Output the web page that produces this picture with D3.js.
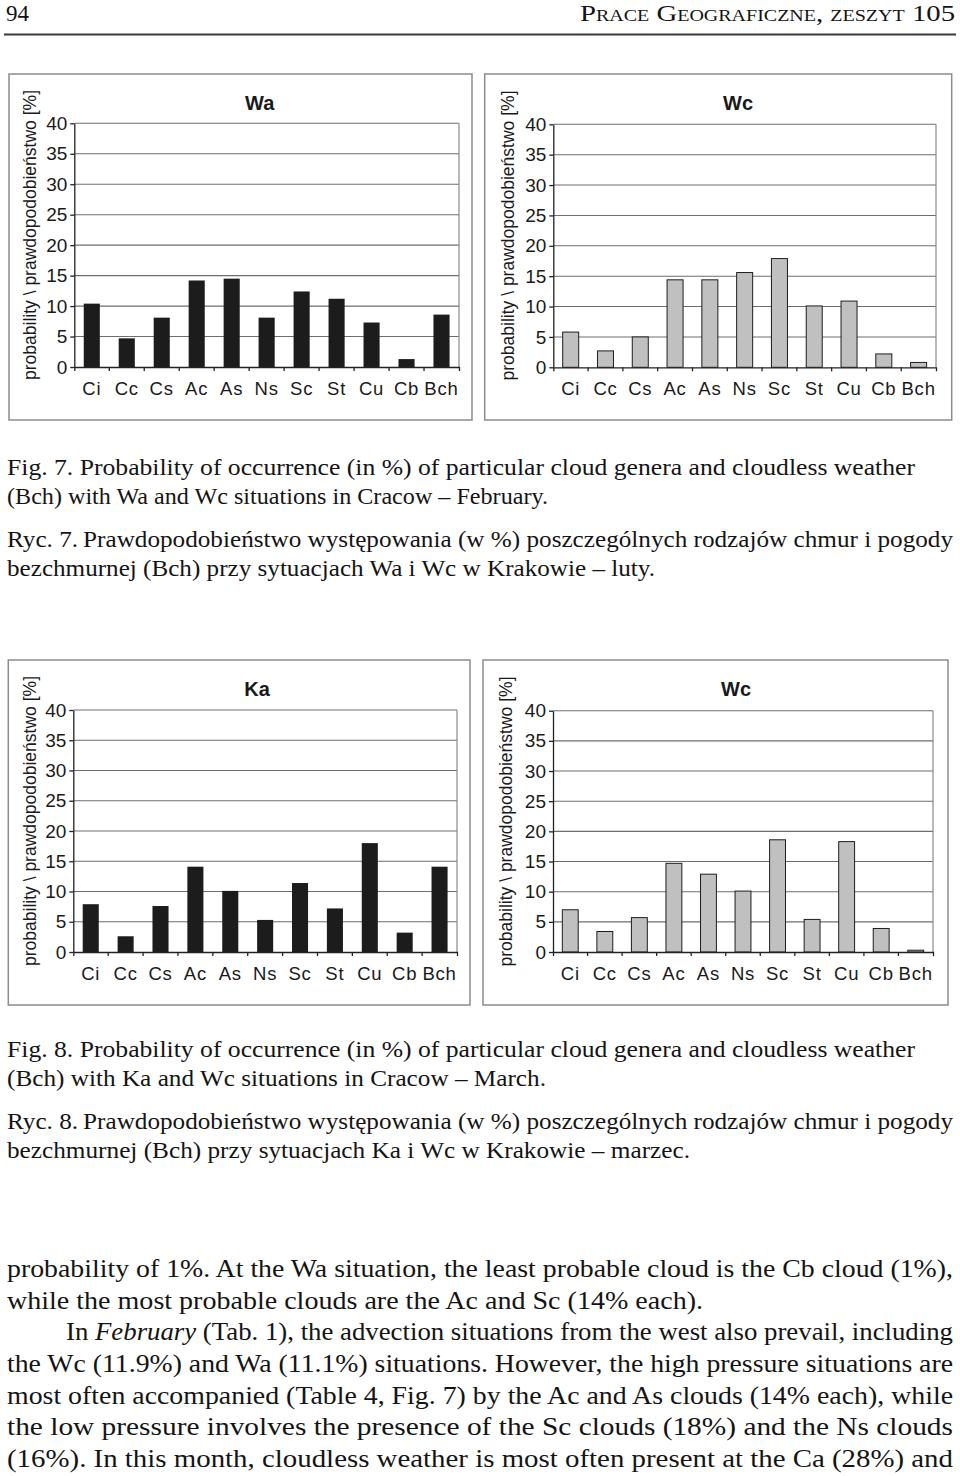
<!DOCTYPE html>
<html>
<head>
<meta charset="utf-8">
<script src="https://cdn.jsdelivr.net/npm/d3@7"></script>
<style>
  body { margin: 0; background: #fff; }
  svg { display: block; }
  .chart text { font-family: "Liberation Sans", Arial, sans-serif; fill: #1a1a1a; }
  .serif { font-family: "Liberation Serif", "Times New Roman", serif; fill: #141414; }
</style>
</head>
<body>
<svg id="page" width="960" height="1476"></svg>
<script>
// cloud genera + cloudless weather (Bch)
var categories = ["Ci", "Cc", "Cs", "Ac", "As", "Ns", "Sc", "St", "Cu", "Cb", "Bch"];
var yTicks = [0, 5, 10, 15, 20, 25, 30, 35, 40];

// February
var waFeb = [10.4, 4.7, 8.1, 14.2, 14.5, 8.1, 12.4, 11.2, 7.3, 1.3, 8.6];
var wcFeb = [5.8, 2.7, 5.0, 14.4, 14.4, 15.6, 17.9, 10.1, 10.9, 2.2, 0.8];
// March
var kaMar = [7.9, 2.6, 7.6, 14.1, 10.1, 5.3, 11.4, 7.2, 18.0, 3.2, 14.1];
var wcMar = [7.0, 3.4, 5.7, 14.7, 12.9, 10.1, 18.6, 5.4, 18.3, 3.9, 0.3];

var yTitle = "probability \\ prawdopodobieństwo [%]";

var svg = d3.select("#page");
svg.append("rect").attr("width", 960).attr("height", 1476).attr("fill", "#fff");

// page header
svg.append("text").attr("class", "serif")
  .attr("x", 6).attr("y", 21)
  .style("font-size", "23px")
  .text("94");
svg.append("text").attr("class", "serif")
  .attr("x", 955).attr("y", 21)
  .attr("text-anchor", "end")
  .style("font-size", "23px")
  .style("font-variant", "small-caps")
  .attr("textLength", 375).attr("lengthAdjust", "spacingAndGlyphs")
  .text("Prace Geograficzne, zeszyt 105");
svg.append("line")
  .attr("x1", 4).attr("x2", 956).attr("y1", 34.5).attr("y2", 34.5)
  .attr("stroke", "#3a3a3a").attr("stroke-width", 2);

function drawChart(cfg)
{
  var g = svg.append("g").attr("class", "chart");

  g.append("rect")
    .attr("x", cfg.box[0]).attr("y", cfg.box[1])
    .attr("width", cfg.box[2] - cfg.box[0]).attr("height", cfg.box[3] - cfg.box[1])
    .attr("fill", "none").attr("stroke", "#8c8c8c").attr("stroke-width", 1.5);

  var x = d3.scaleBand().domain(categories).range([cfg.plot[0], cfg.plot[2]]);
  var xBar = d3.scaleBand().domain(categories).range([cfg.plot[0], cfg.plot[2]])
    .paddingInner(0.54).paddingOuter(0.27);
  var y = d3.scaleLinear().domain([0, 40]).range([cfg.plot[3], cfg.plot[1]]);

  // gridlines
  g.append("g").selectAll("line").data(yTicks.slice(1)).join("line")
    .attr("x1", cfg.plot[0]).attr("x2", cfg.plot[2])
    .attr("y1", function(d) { return y(d); }).attr("y2", function(d) { return y(d); })
    .attr("stroke", "#6e6e6e").attr("stroke-width", 1.1);
  g.append("line")
    .attr("x1", cfg.plot[2]).attr("x2", cfg.plot[2])
    .attr("y1", y(0)).attr("y2", y(40))
    .attr("stroke", "#8a8a8a").attr("stroke-width", 1.2);

  // bars
  g.append("g").selectAll("rect").data(cfg.values).join("rect")
    .attr("x", function(d, i) { return xBar(categories[i]); })
    .attr("width", xBar.bandwidth())
    .attr("y", function(d) { return y(d); })
    .attr("height", function(d) { return y(0) - y(d); })
    .attr("fill", cfg.fill)
    .attr("stroke", cfg.stroke)
    .attr("stroke-width", cfg.stroke == "none" ? 0 : 1);

  // y axis
  var ya = g.append("g")
    .attr("transform", "translate(" + cfg.plot[0] + ",0)")
    .call(d3.axisLeft(y).tickValues(yTicks).tickSize(4).tickSizeOuter(0).tickPadding(3));
  ya.selectAll("text").style("font-size", "19px");
  ya.selectAll("path, line").attr("stroke", "#222").attr("stroke-width", 1.3);

  // x axis: labels in band centres, ticks on band edges
  var xa = g.append("g")
    .attr("transform", "translate(0," + y(0) + ")")
    .call(d3.axisBottom(x).tickSize(0).tickSizeOuter(4).tickPadding(15));
  xa.selectAll("text").style("font-size", "18.5px").style("letter-spacing", "0.8px");
  xa.select(".domain").attr("stroke", "#222").attr("stroke-width", 1.3);
  xa.append("g").selectAll("line").data(categories.slice(1)).join("line")
    .attr("x1", function(d) { return x(d); }).attr("x2", function(d) { return x(d); })
    .attr("y1", 0).attr("y2", 4)
    .attr("stroke", "#222").attr("stroke-width", 1.3);

  // titles
  g.append("text")
    .attr("x", cfg.title[1]).attr("y", cfg.title[2])
    .attr("text-anchor", "middle")
    .style("font-size", "20px").style("font-weight", "bold")
    .text(cfg.title[0]);
  g.append("text")
    .attr("transform", "translate(" + cfg.yTitle[0] + "," + cfg.yTitle[1] + ") rotate(-90)")
    .attr("text-anchor", "middle")
    .style("font-size", "18px")
    .attr("textLength", 290).attr("lengthAdjust", "spacingAndGlyphs")
    .text(yTitle);
}

drawChart({ box: [9, 74, 472, 420], plot: [74.3, 123.3, 459, 367], values: waFeb,
  fill: "#1c1c1c", stroke: "none", title: ["Wa", 259.7, 109.5], yTitle: [36, 235] });
drawChart({ box: [484.7, 74, 951.7, 420], plot: [553.3, 124.3, 936, 367.3], values: wcFeb,
  fill: "#c0c0c0", stroke: "#1e1e1e", title: ["Wc", 738, 109.5], yTitle: [514, 235.5] });
drawChart({ box: [8.3, 660, 470, 1005], plot: [73.3, 710, 457, 952], values: kaMar,
  fill: "#1c1c1c", stroke: "none", title: ["Ka", 257, 695.5], yTitle: [36, 821] });
drawChart({ box: [483, 660, 948, 1005], plot: [553, 710.7, 933, 952], values: wcMar,
  fill: "#c0c0c0", stroke: "#1e1e1e", title: ["Wc", 736, 696], yTitle: [512, 821.5] });

// captions and running text
function textLine(x, y, size, width, parts)
{
  var t = svg.append("text").attr("class", "serif")
    .attr("x", x).attr("y", y)
    .style("font-size", size + "px")
    .attr("textLength", width).attr("lengthAdjust", "spacingAndGlyphs");
  parts.forEach(function(p) {
    if (typeof p == "string") t.append("tspan").text(p);
    else t.append("tspan").style("font-style", "italic").text(p.i);
  });
}

var capLines = [
  [475, 908, "Fig. 7. Probability of occurrence (in %) of particular cloud genera and cloudless weather"],
  [504, 541, "(Bch) with Wa and Wc situations in Cracow \u2013 February."],
  [547, 946, "Ryc. 7.\u2009Prawdopodobieństwo występowania (w %) poszczególnych rodzajów chmur i pogody"],
  [576, 648, "bezchmurnej (Bch) przy sytuacjach Wa i Wc w Krakowie \u2013 luty."],
  [1057, 908, "Fig. 8. Probability of occurrence (in %) of particular cloud genera and cloudless weather"],
  [1086, 539, "(Bch) with Ka and Wc situations in Cracow \u2013 March."],
  [1129, 946, "Ryc. 8.\u2009Prawdopodobieństwo występowania (w %) poszczególnych rodzajów chmur i pogody"],
  [1158, 683, "bezchmurnej (Bch) przy sytuacjach Ka i Wc w Krakowie \u2013 marzec."]
];
capLines.forEach(function(l) { textLine(7, l[0], 23.5, l[1], [l[2]]); });

var bodyLines = [
  [7, 1277, 946, ["probability of 1%. At the Wa situation, the least probable cloud is the Cb cloud (1%),"]],
  [7, 1309, 696, ["while the most probable clouds are the Ac and Sc (14% each)."]],
  [66, 1340, 887, ["In ", { i: "February" }, " (Tab. 1), the advection situations from the west also prevail, including"]],
  [7, 1372, 946, ["the Wc (11.9%) and Wa (11.1%) situations. However, the high pressure situations are"]],
  [7, 1404, 946, ["most often accompanied (Table 4, Fig. 7) by the Ac and As clouds (14% each), while"]],
  [7, 1435, 946, ["the low pressure involves the presence of the Sc clouds (18%) and the Ns clouds"]],
  [7, 1467, 946, ["(16%). In this month, cloudless weather is most often present at the Ca (28%) and"]]
];
bodyLines.forEach(function(l) { textLine(l[0], l[1], 25, l[2], l[3]); });
</script>
</body>
</html>
